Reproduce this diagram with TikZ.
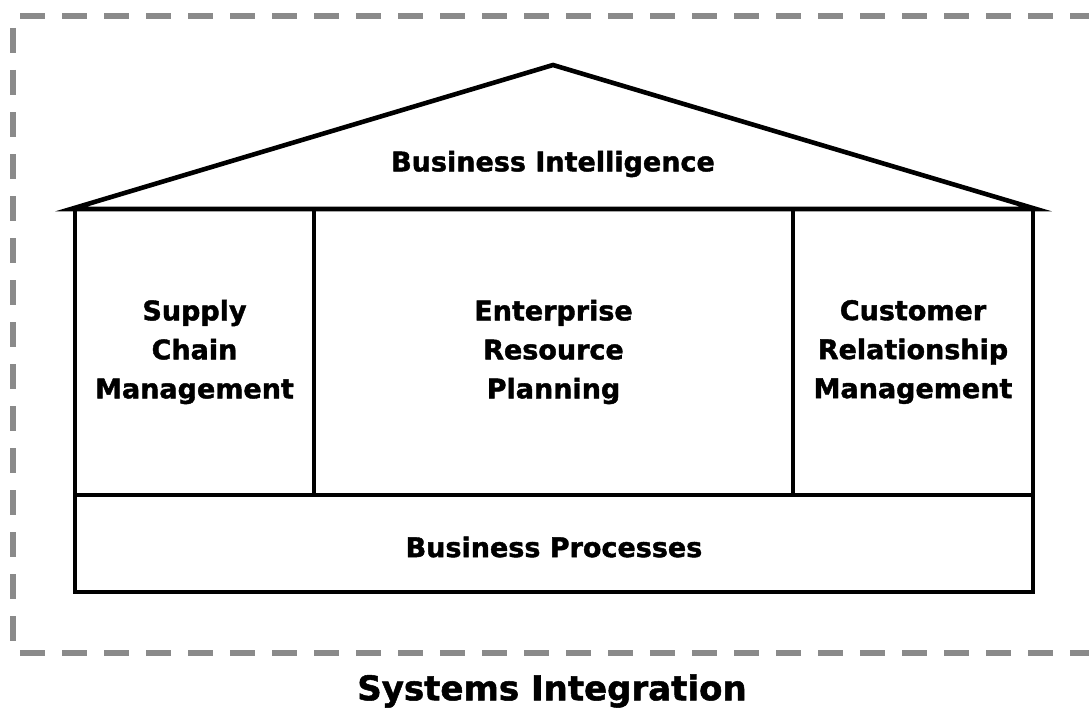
\documentclass[tikz,border=0pt]{standalone}
\usepackage{fontspec}
\setmainfont{DejaVu Sans}[BoldFeatures={FakeBold=1.5}]
\usetikzlibrary{positioning, calc}
\definecolor{framegray}{RGB}{138, 138, 138}

\begin{document}
\begin{tikzpicture}[x=1pt, y=-1pt,
        wall/.style={line width=4.6pt, line join=miter},
        frame/.style={framegray, line width=5.5pt, dash pattern=on 25pt off 17pt},
        every node/.style={font=\fontsize{27}{39}\selectfont\bfseries, align=center, inner sep=0pt}]

        \useasboundingbox (0,0) rectangle (1089,709);

        % Dashed frame (right side runs off the page)
        \draw[frame] (20,16) -- (1100,16);
        \draw[frame] (13,28) -- (13,645);
        \draw[frame] (20,653) -- (1100,653);

        % Roof
        \coordinate (apex) at (553,65);
        \coordinate (eaveL) at (71,209);
        \coordinate (eaveR) at (1036,209);
        \draw[wall] (eaveL) -- (apex) -- (eaveR) -- cycle;

        % Walls, pillars and floor
        \draw[wall] (75,209) rectangle (1033,592);
        \draw[wall] (314,209) -- (314,495);
        \draw[wall] (793,209) -- (793,495);
        \draw[wall] (75,495) -- (1033,495);

        % Labels
        \node (bi) at (553,164) {Business Intelligence};
        \node (scm) at (194.5,352) {Supply\\Chain\\Management};
        \node (erp) at (553.5,352) {Enterprise\\Resource\\Planning};
        \node (crm) at (913,352) {Customer\\Relationship\\Management};
        \node (bp) at (554,547) {Business Processes};
        \node[font=\fontsize{34}{40}\selectfont\bfseries] (si) at (552,691) {Systems Integration};

\end{tikzpicture}
\end{document}
